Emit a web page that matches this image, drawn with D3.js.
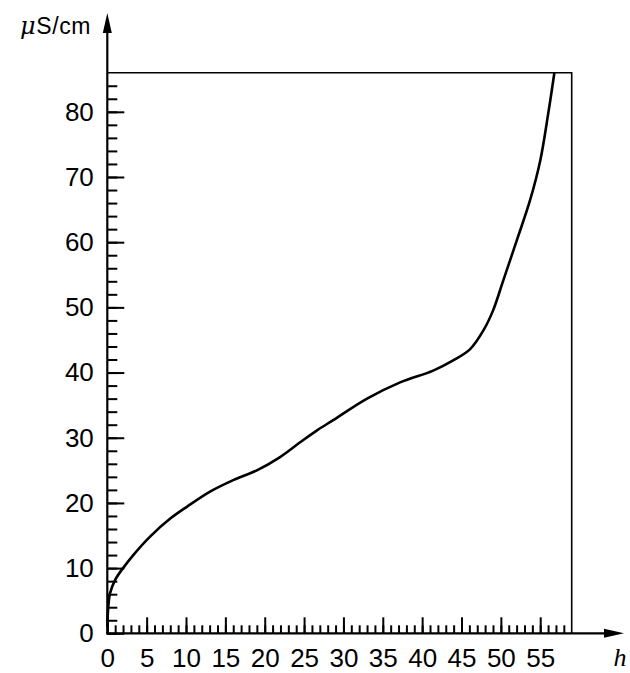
<!DOCTYPE html>
<html>
<head>
<meta charset="utf-8">
<script src="https://cdn.jsdelivr.net/npm/d3@7"></script>
<style>
  body { margin: 0; background: #fff; }
  svg text { font-family: "Liberation Sans", Arial, sans-serif; }
</style>
</head>
<body>
<div class="canvas"></div>
<script>
// curve: h (hours) vs conductivity (uS/cm)
const hours = [0, 0.34, 1.0, 2.0, 3.3, 5.4, 8.0, 10.1, 13.0, 16.0, 19.0, 21.9, 24.5, 26.6, 28.7, 33.0, 37.2, 41.4, 44.0, 46.1, 47.8, 49.0, 50.3, 52.0, 53.7, 55.0, 56.0, 56.8]
const conductivity = [1, 6.1, 8.2, 10.0, 12.0, 14.8, 17.6, 19.4, 21.7, 23.5, 25.0, 27.0, 29.3, 31.1, 32.7, 36.0, 38.5, 40.3, 41.9, 43.6, 46.5, 49.5, 54.1, 60.2, 66.4, 72.5, 79.6, 86]
const xTickLabels = [0, 5, 10, 15, 20, 25, 30, 35, 40, 45, 50, 55]
const yTickLabels = [0, 10, 20, 30, 40, 50, 60, 70, 80]
const xMax = 59
const yMax = 86

const width = 630
const height = 673

const svg = d3.select('.canvas')
    .append('svg')
    .attr('width', width)
    .attr('height', height)

const x = d3.scaleLinear().domain([0, xMax]).range([107.3, 571.7])
const y = d3.scaleLinear().domain([0, yMax]).range([633.3, 72.7])

// minor ticks
const xMinor = d3.axisBottom(x)
    .tickValues(d3.range(0, xMax))
    .tickSizeInner(-8).tickSizeOuter(0)
    .tickFormat('')
const yMinor = d3.axisLeft(y)
    .tickValues(d3.range(0, yMax, 2))
    .tickSizeInner(-10).tickSizeOuter(0)
    .tickFormat('')

// major ticks with labels
const xAxis = d3.axisBottom(x)
    .tickValues(xTickLabels)
    .tickSizeInner(-16).tickSizeOuter(0)
    .tickPadding(15)
const yAxis = d3.axisLeft(y)
    .tickValues(yTickLabels)
    .tickSizeInner(-17).tickSizeOuter(0)
    .tickPadding(13.5)

const styleAxis = g => {
    g.select('.domain').remove()
    g.selectAll('line').attr('stroke', '#000').attr('stroke-width', 2)
    g.selectAll('text')
        .attr('fill', '#000')
        .style('font-size', '26px')
        .style('font-family', '"Liberation Sans", Arial, sans-serif')
}

svg.append('g').attr('transform', `translate(0, ${y(0)})`).call(xMinor).call(styleAxis)
svg.append('g').attr('transform', `translate(${x(0)}, 0)`).call(yMinor).call(styleAxis)
svg.append('g').attr('transform', `translate(0, ${y(0)})`).call(xAxis).call(styleAxis)
svg.append('g').attr('transform', `translate(${x(0)}, 0)`).call(yAxis).call(styleAxis)

// frame (top and right)
svg.append('path')
    .attr('d', `M${x(0)},${y(yMax)}H${x(xMax)}V${y(0)}`)
    .attr('fill', 'none')
    .attr('stroke', '#000')
    .attr('stroke-width', 1.6)

// axis lines with arrows
const x0 = x(0), y0 = y(0)
svg.append('line')
    .attr('x1', x0).attr('y1', y0 + 1).attr('x2', x0).attr('y2', 25)
    .attr('stroke', '#000').attr('stroke-width', 2.2)
svg.append('line')
    .attr('x1', x0 - 1).attr('y1', y0).attr('x2', 612).attr('y2', y0)
    .attr('stroke', '#000').attr('stroke-width', 2.2)
svg.append('path')
    .attr('d', `M${x0},13L${x0 + 4.5},33L${x0 - 4.5},33Z`)
    .attr('fill', '#000')
svg.append('path')
    .attr('d', `M624,${y0}L604,${y0 - 4.5}L604,${y0 + 4.5}Z`)
    .attr('fill', '#000')

// axis titles
const yTitle = svg.append('text')
    .attr('x', 91).attr('y', 34)
    .attr('text-anchor', 'end')
    .style('font-size', '23px')
    .style('letter-spacing', '0.6px')
yTitle.append('tspan')
    .style('font-style', 'italic')
    .style('font-family', '"DejaVu Serif", "Liberation Serif", serif')
    .style('font-size', '24px')
    .text('μ')
yTitle.append('tspan').text('S/cm')

svg.append('text')
    .attr('x', 620).attr('y', 666)
    .attr('text-anchor', 'middle')
    .style('font-family', '"Liberation Serif", "Times New Roman", serif')
    .style('font-style', 'italic')
    .style('font-size', '26px')
    .text('h')

// the curve
const points = hours.map((h, i) => [h, conductivity[i]])
const line = d3.line()
    .x(d => x(d[0]))
    .y(d => y(d[1]))
    .curve(d3.curveCatmullRom.alpha(0.5))

svg.append('path')
    .datum(points)
    .attr('d', line)
    .attr('fill', 'none')
    .attr('stroke', '#000')
    .attr('stroke-width', 2.6)
</script>
</body>
</html>
